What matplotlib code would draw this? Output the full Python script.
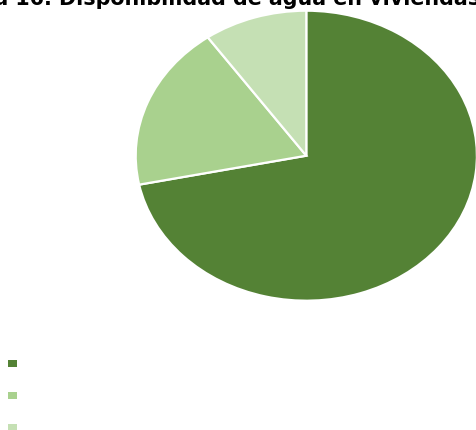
import matplotlib
matplotlib.use('Agg')
import matplotlib.pyplot as plt

# share of dwellings by water availability
categories = ['Agua entubada dentro de la vivienda',
              'Agua entubada fuera de la vivienda',
              'No disponen de agua entubada']
values = [71.8, 18.4, 9.8]
colors = ['#548235', '#A9D18E', '#C5E0B4']
title = 'Gráfica 16. Disponibilidad de agua en viviendas'

W, H = 477, 430
fig = plt.figure(figsize=(W / 100, H / 100), dpi=100)

# the pie in the source is stretched sideways, so the axes box sets its shape
ax = fig.add_axes([135.7 / W, (H - 300.7) / H, 341.2 / W, 290 / H])
wedges, _ = ax.pie(values, colors=colors, startangle=90, counterclock=False,
                   wedgeprops=dict(edgecolor='white', linewidth=1.6))
ax.set_aspect('auto')
ax.set_xlim(-1, 1)
ax.set_ylim(-1, 1)

# title is cut off at the top of the picture
fig.text(480 / W, (H - 5) / H, title, ha='right', va='baseline',
         fontsize=14.9, fontweight='bold', color='black')

leg = fig.legend(wedges, categories, loc='upper left',
                 bbox_to_anchor=(4 / W, (H - 355) / H), frameon=False,
                 fontsize=6, handlelength=1.08, handleheight=0.96,
                 handletextpad=0.6, labelspacing=2.75, borderpad=0)
for t in leg.get_texts():
    t.set_color('white')
for h in leg.legend_handles:
    h.set_edgecolor('none')

fig.savefig('out.png', dpi=100)
